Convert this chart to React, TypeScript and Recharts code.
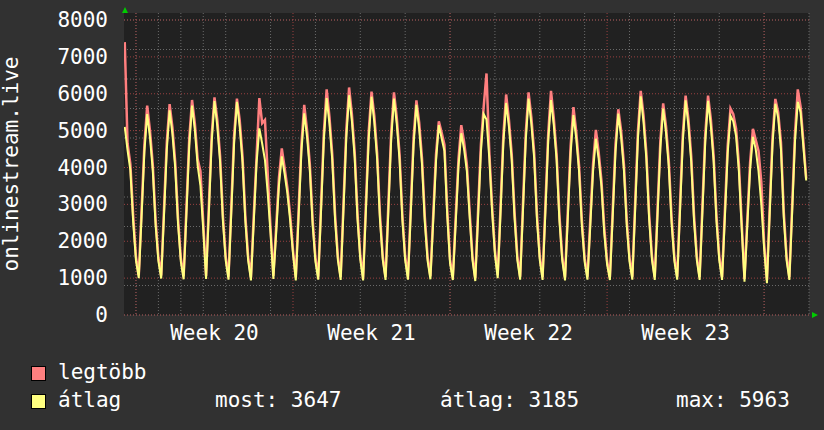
import { LineChart, Line, XAxis, YAxis, CartesianGrid } from 'recharts';

const FONT = '"DejaVu Sans Mono", monospace';

// hours since Monday 00:00 of week 20, one sample every 3 hours
const firstHour = -12;
const stepHours = 3;

// átlag (average), one line per day: 00h 03h 06h 09h 12h 15h 18h 21h
const avgValues = [
  5100, 4470, 3930, 2530,
  1480, 1000, 2660, 4420, 5450, 4820, 3920, 2440,
  1460, 990, 2700, 4490, 5550, 4910, 3990, 2470,
  1450, 970, 2750, 4590, 5680, 5020, 4050, 3500,
  2300, 980, 2790, 4690, 5800, 5120, 4150, 2550,
  1480, 960, 2790, 4670, 5780, 5100, 4140, 2550,
  1480, 940, 2510, 4120, 5060, 4650, 4200, 3290,
  2200, 980, 2220, 3530, 4300, 3830, 3300, 2550,
  1660, 940, 2670, 4430, 5470, 4840, 3930, 2440,
  1450, 960, 2820, 4750, 5880, 5190, 4200, 2580,
  1490, 950, 2850, 4810, 5960, 5260, 4260, 2600,
  1500, 940, 2840, 4780, 5920, 5220, 4230, 2590,
  1500, 950, 2820, 4740, 5870, 5180, 4200, 2570,
  1490, 960, 2760, 4610, 5700, 5040, 4090, 2520,
  1470, 970, 2550, 4180, 5150, 4790, 4450, 2700,
  1400, 950, 2460, 4020, 4930, 4500, 3900, 2650,
  1490, 920, 2660, 4420, 5450, 5300, 4250, 2800,
  1650, 1000, 2750, 4650, 5750, 5110, 4200, 2640,
  1490, 960, 2820, 4740, 5870, 5180, 4250, 2570,
  1490, 950, 2800, 4710, 5830, 5150, 4200, 2560,
  1490, 940, 2650, 4390, 5420, 4790, 3900, 2430,
  1440, 960, 2400, 3900, 4780, 4240, 3480, 2210,
  1370, 950, 2660, 4420, 5460, 4830, 3930, 2440,
  1450, 960, 2840, 4790, 5930, 5230, 4240, 2590,
  1500, 950, 2720, 4530, 5600, 4950, 4020, 2490,
  1460, 960, 2800, 4700, 5820, 5140, 4160, 2560,
  1490, 950, 2800, 4690, 5810, 5130, 4160, 2550,
  1490, 950, 2640, 4380, 5400, 5250, 4850, 3900,
  2350, 900, 2420, 3940, 4830, 4500, 3900, 3000,
  1800, 860, 2770, 4630, 5730, 5350, 4500, 2650,
  1490, 950, 2800, 4710, 5780, 5500, 4560, 3647,
];

// legtöbb (maximum)
const maxValues = [
  7400, 4650, 4100, 2700,
  1580, 1080, 2840, 4610, 5680, 5000, 4080, 2580,
  1560, 1070, 2880, 4690, 5720, 5090, 4150, 2620,
  1540, 1050, 2930, 4790, 5830, 5200, 4220, 3900,
  2500, 1060, 2970, 4880, 5900, 5300, 4310, 2700,
  1580, 1040, 2960, 4870, 5870, 5280, 4300, 2690,
  1580, 1020, 2690, 4300, 5880, 5200, 5290, 3800,
  2350, 1060, 2400, 3730, 4520, 4000, 3450, 2700,
  1760, 1020, 2850, 4630, 5700, 5020, 4090, 2590,
  1550, 1040, 3000, 4950, 6120, 5370, 4360, 2730,
  1590, 1030, 3030, 5010, 6170, 5440, 4420, 2750,
  1600, 1020, 3020, 4980, 6060, 5400, 4390, 2740,
  1600, 1030, 3000, 4940, 6040, 5360, 4360, 2720,
  1590, 1040, 2940, 4810, 5820, 5220, 4250, 2670,
  1570, 1050, 2720, 4360, 5250, 4950, 4620, 2850,
  1500, 1030, 2640, 4220, 5150, 4700, 4080, 2800,
  1590, 1000, 2840, 4620, 5650, 6550, 4420, 2950,
  1760, 1080, 2930, 4850, 5980, 5290, 4360, 2790,
  1590, 1040, 3000, 4940, 6040, 5360, 4410, 2720,
  1590, 1030, 2980, 4910, 6080, 5330, 4360, 2710,
  1590, 1020, 2830, 4590, 5640, 4970, 4060, 2580,
  1540, 1040, 2580, 4100, 5020, 4420, 3640, 2360,
  1470, 1030, 2840, 4620, 5580, 5010, 4090, 2590,
  1550, 1040, 3020, 4990, 6080, 5410, 4400, 2740,
  1600, 1030, 2900, 4730, 5740, 5130, 4180, 2640,
  1560, 1040, 2980, 4900, 5950, 5320, 4320, 2710,
  1590, 1030, 2980, 4890, 5950, 5310, 4320, 2700,
  1590, 1030, 2820, 4580, 5600, 5450, 5050, 4100,
  2500, 980, 2600, 4140, 5050, 4750, 4450, 3600,
  1950, 950, 2950, 4830, 5860, 5500, 4680, 2800,
  1590, 1030, 2980, 4910, 6120, 5650, 4700, 3700,
];

const weekLabels = ['Week 20', 'Week 21', 'Week 22', 'Week 23'];
const weekLabelHours = [84, 252, 420, 588];
const weekStartHours = [0, 168, 336, 504, 672];
const yTicks = [0, 1000, 2000, 3000, 4000, 5000, 6000, 7000, 8000];

const stats = { most: '3647', atlag: '3185', max: '5963' };

const data = avgValues.map((avg, i) => ({
  t: firstHour + i * stepHours,
  avg,
  max: maxValues[i],
}));

const dayLines = Array.from({ length: 31 }, (_, i) => i * 24);
const minorY = Array.from({ length: 41 }, (_, i) => i * 200);

const RED = '#ff7f7f';
const YELLOW = '#ffff80';
const TEXT = '#ffffff';

function YTick({ x, y, payload }: any) {
  return (
    <text x={x - 16} y={y} dy={7} textAnchor="end" fill={TEXT} fontSize={21} fontFamily={FONT}>
      {payload.value}
    </text>
  );
}

function XTick({ x, y, payload }: any) {
  const idx = weekLabelHours.indexOf(payload.value);
  return (
    <text x={x} y={y + 25} textAnchor="middle" fill={TEXT} fontSize={21} fontFamily={FONT}>
      {weekLabels[idx]}
    </text>
  );
}

function LegendBox({ color, top }: { color: string; top: number }) {
  return (
    <div
      style={{
        position: 'absolute',
        left: 31,
        top,
        width: 13,
        height: 13,
        background: color,
        border: '1px solid #000',
      }}
    />
  );
}

function LegendText({ left, top, children }: { left: number; top: number; children: string }) {
  return (
    <div
      style={{
        position: 'absolute',
        left,
        top,
        color: TEXT,
        fontFamily: FONT,
        fontSize: 21,
        lineHeight: '24px',
        whiteSpace: 'pre',
      }}
    >
      {children}
    </div>
  );
}

export default function App() {
  return (
    <div style={{ position: 'absolute', left: 0, top: 0, width: 824, height: 430, background: '#313131' }}>
      <LineChart width={824} height={430} data={data} margin={{ top: 13, right: 15, bottom: 0, left: 0 }}>
        <CartesianGrid
          horizontalValues={minorY}
          verticalValues={dayLines}
          stroke="#6a6a6a"
          strokeDasharray="1 2"
          fill="#212121"
          fillOpacity={1}
        />
        <CartesianGrid
          horizontalValues={yTicks}
          verticalValues={weekStartHours}
          stroke="#9a4040"
          strokeDasharray="1 2"
        />
        <XAxis
          dataKey="t"
          type="number"
          domain={[-12.8, 720]}
          ticks={weekLabelHours}
          tick={<XTick />}
          tickLine={false}
          axisLine={false}
          tickSize={0}
          tickMargin={0}
          height={115}
          allowDataOverflow
        />
        <YAxis
          type="number"
          domain={[0, 8190]}
          ticks={yTicks}
          tick={<YTick />}
          tickLine={false}
          axisLine={false}
          tickSize={0}
          tickMargin={0}
          width={124}
          allowDataOverflow
        />
        <Line type="linear" dataKey="max" stroke={RED} strokeWidth={2.5} dot={false} isAnimationActive={false} />
        <Line type="linear" dataKey="avg" stroke={YELLOW} strokeWidth={2} dot={false} isAnimationActive={false} />
      </LineChart>

      <svg width={824} height={430} style={{ position: 'absolute', left: 0, top: 0, pointerEvents: 'none' }}>
        <text
          x={18}
          y={164}
          transform="rotate(-90 18 164)"
          textAnchor="middle"
          fill={TEXT}
          fontSize={21}
          fontFamily={FONT}
        >
          onlinestream.live
        </text>
        <polygon points="122,13 128,13 125,7" fill="#00cc00" />
        <polygon points="812,312 812,318 818,315" fill="#00cc00" />
      </svg>

      <LegendBox color={RED} top={366} />
      <LegendText left={58} top={360}>legtöbb</LegendText>
      <LegendBox color={YELLOW} top={394} />
      <LegendText left={58} top={388}>átlag</LegendText>
      <LegendText left={215} top={388}>{`most: ${stats.most}`}</LegendText>
      <LegendText left={440} top={388}>{`átlag: ${stats.atlag}`}</LegendText>
      <LegendText left={676} top={388}>{`max: ${stats.max}`}</LegendText>
    </div>
  );
}
